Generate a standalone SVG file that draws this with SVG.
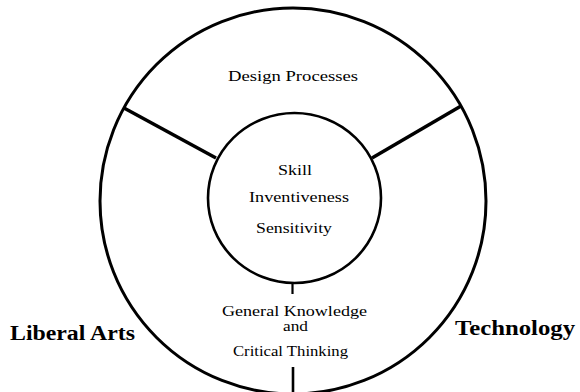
<svg xmlns="http://www.w3.org/2000/svg" width="580" height="392" viewBox="0 0 580 392">
  <style>
    .ring { fill: none; stroke: #000; }
    .spoke { stroke: #000; stroke-linecap: butt; }
    .lbl { font-family: "Liberation Serif", "Times New Roman", serif; font-size: 15px; fill: #000; text-anchor: middle; }
    .tight { font-size: 14px; }
    .side { font-family: "Liberation Serif", "Times New Roman", serif; font-size: 20px; font-weight: bold; fill: #000; }
  </style>
  <rect width="580" height="392" fill="#fff"/>

  <!-- outer ring: design processes / general knowledge sectors -->
  <g id="outer-ring">
    <circle class="ring" cx="293" cy="201" r="193" stroke-width="3"/>
    <text class="lbl" x="293" y="81" textLength="130" lengthAdjust="spacingAndGlyphs">Design Processes</text>
    <text class="lbl tight" x="294.5" y="316" textLength="145" lengthAdjust="spacingAndGlyphs">General Knowledge</text>
    <text class="lbl tight" x="295.5" y="331" textLength="25" lengthAdjust="spacingAndGlyphs">and</text>
    <text class="lbl" x="290.5" y="356" textLength="115" lengthAdjust="spacingAndGlyphs">Critical Thinking</text>
  </g>

  <!-- inner core -->
  <g id="core">
    <ellipse class="ring" cx="294.5" cy="198" rx="86.5" ry="85" stroke-width="2.6"/>
    <text class="lbl" x="295" y="175" textLength="34" lengthAdjust="spacingAndGlyphs">Skill</text>
    <text class="lbl" x="299" y="202" textLength="100" lengthAdjust="spacingAndGlyphs">Inventiveness</text>
    <text class="lbl" x="294" y="233" textLength="76" lengthAdjust="spacingAndGlyphs">Sensitivity</text>
  </g>

  <!-- side headings -->
  <g id="liberal-arts">
    <text class="side" x="10" y="340" textLength="125" lengthAdjust="spacingAndGlyphs">Liberal Arts</text>
  </g>
  <g id="technology">
    <text class="side" x="455" y="335" textLength="120" lengthAdjust="spacingAndGlyphs">Technology</text>
  </g>

  <!-- dividers between sectors -->
  <g id="connectors">
    <line class="spoke" x1="124" y1="108" x2="216" y2="158" stroke-width="3.5"/>
    <line class="spoke" x1="461" y1="106" x2="372" y2="158" stroke-width="3.5"/>
    <line class="spoke" x1="292.5" y1="282" x2="292.5" y2="294" stroke-width="2.2"/>
    <line class="spoke" x1="293" y1="367" x2="293" y2="392" stroke-width="2.6"/>
  </g>
</svg>
